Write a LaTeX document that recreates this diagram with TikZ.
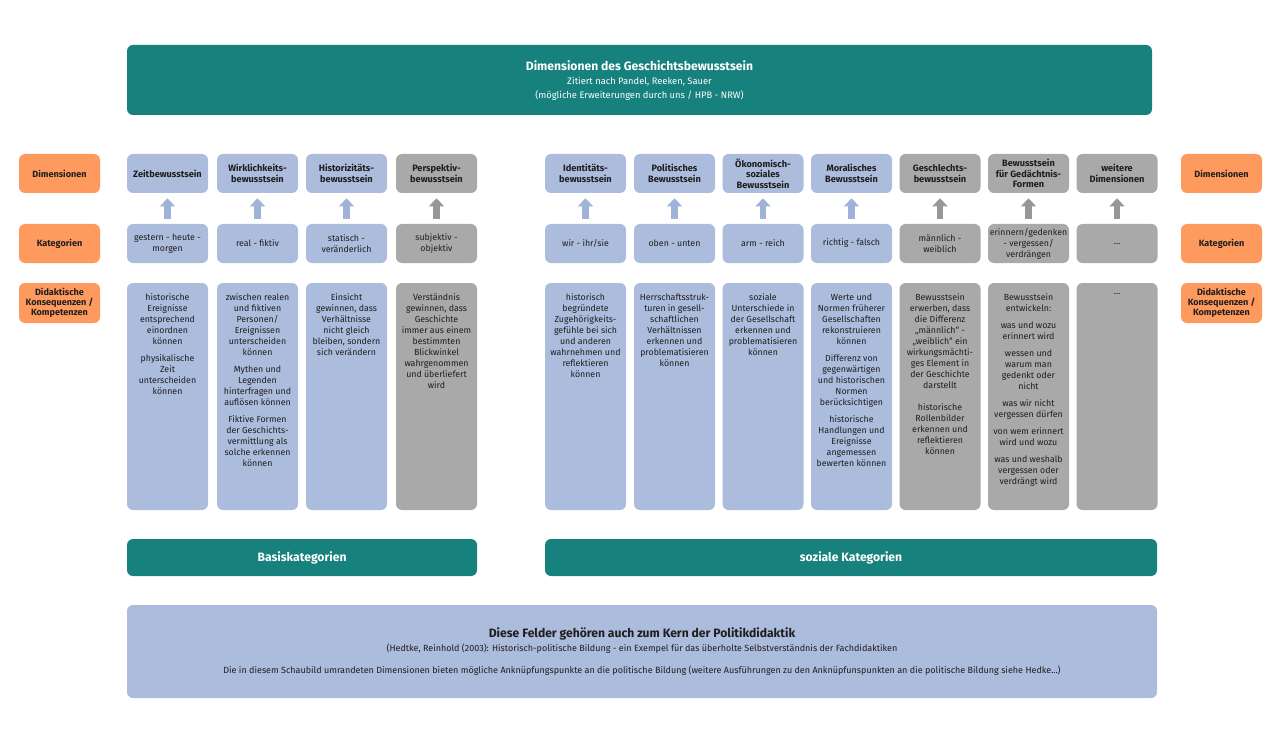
\documentclass[tikz,border=0pt]{standalone}
\usepackage{fontspec}
\setmainfont{Fira Sans}
\usetikzlibrary{arrows.meta}
\definecolor{tealc}{HTML}{17817D}
\definecolor{blu}{HTML}{ABBCDC}
\definecolor{gry}{HTML}{A9A9A9}
\definecolor{orng}{HTML}{FF9A5E}
\definecolor{bluarr}{HTML}{9FB2D8}
\definecolor{gryarr}{HTML}{979797}
\definecolor{txt}{HTML}{1E1E1E}
\begin{document}
\begin{tikzpicture}[x=0.75pt,y=-0.75pt,
  box/.style={rounded corners=4.5pt, inner sep=0pt, align=center, text=txt},
  dimbox/.style={box, minimum width=60.75pt, minimum height=29.25pt, font=\fontsize{6.9}{8}\selectfont\bfseries},
  catbox/.style={box, minimum width=60.75pt, minimum height=29.25pt, font=\fontsize{6.6}{8.25}\selectfont},
  didbox/.style={box, minimum width=60.75pt, minimum height=170.25pt},
  dtext/.style={inner sep=0pt, align=center, text=txt, font=\fontsize{6.6}{8.25}\selectfont, anchor=north},
  lbl/.style={box, fill=orng, minimum width=60.75pt, minimum height=29.25pt, font=\fontsize{6.8}{7.6}\selectfont\bfseries},
  tbox/.style={rounded corners=4.5pt, inner sep=0pt, fill=tealc, text=white, align=center},
  arrb/.style={line width=5pt, draw=bluarr, -{Triangle[width=11pt,length=6pt]}, shorten <=3.75pt, shorten >=3.75pt},
  arrg/.style={arrb, draw=gryarr}
]
\useasboundingbox (0,0) rectangle (1280,752);

% header
\node[tbox, minimum width=768.75pt, minimum height=52.5pt] (head) at (639.5,80) {};
\node[text=white, font=\fontsize{9.1}{10}\selectfont\bfseries, inner sep=0pt] (h1) at (639.5,66) {Dimensionen des Geschichtsbewusstsein};
\node[text=white, font=\fontsize{7}{8}\selectfont, inner sep=0pt] (h2) at (639.5,82) {Zitiert nach Pandel, Reeken, Sauer};
\node[text=white, font=\fontsize{7}{8}\selectfont, inner sep=0pt] (h3) at (639.5,96) {(mögliche Erweiterungen durch uns / HPB - NRW)};

% orange labels
\node[lbl] (lD) at (59.5,173.5) {Dimensionen};
\node[lbl] (lK) at (59.5,243.5) {Kategorien};
\node[lbl, minimum height=30pt] (lC) at (59.5,303) {Didaktische\\Konsequenzen /\\Kompetenzen};
\node[lbl] (rD) at (1221.5,173.5) {Dimensionen};
\node[lbl] (rK) at (1221.5,243.5) {Kategorien};
\node[lbl, minimum height=30pt] (rC) at (1221.5,303) {Didaktische\\Konsequenzen /\\Kompetenzen};

% dimension boxes
\node[dimbox, fill=blu] (d1) at (167.5,173.5) {Zeitbewusstsein};
\node[dimbox, fill=blu] (d2) at (257.5,173.5) {Wirklichkeits-\\bewusstsein};
\node[dimbox, fill=blu] (d3) at (346.5,173.5) {Historizitäts-\\bewusstsein};
\node[dimbox, fill=gry] (d4) at (436.5,173.5) {Perspektiv-\\bewusstsein};
\node[dimbox, fill=blu] (d5) at (585.5,173.5) {Identitäts-\\bewusstsein};
\node[dimbox, fill=blu] (d6) at (674.5,173.5) {Politisches\\Bewusstsein};
\node[dimbox, fill=blu] (d7) at (763,173.5) {Ökonomisch-\\soziales\\Bewusstsein};
\node[dimbox, fill=blu] (d8) at (851.5,173.5) {Moralisches\\Bewusstsein};
\node[dimbox, fill=gry] (d9) at (940,173.5) {Geschlechts-\\bewusstsein};
\node[dimbox, fill=gry] (d10) at (1028.5,173.5) {Bewusstsein\\für Gedächtnis-\\Formen};
\node[dimbox, fill=gry] (d11) at (1117,173.5) {weitere\\Dimensionen};

% category boxes
\node[catbox, fill=blu] (c1) at (167.5,243.5) {gestern - heute -\\morgen};
\node[catbox, fill=blu] (c2) at (257.5,243.5) {real - fiktiv};
\node[catbox, fill=blu] (c3) at (346.5,243.5) {statisch -\\veränderlich};
\node[catbox, fill=gry] (c4) at (436.5,243.5) {subjektiv -\\objektiv};
\node[catbox, fill=blu] (c5) at (585.5,243.5) {wir - ihr/sie};
\node[catbox, fill=blu] (c6) at (674.5,243.5) {oben - unten};
\node[catbox, fill=blu] (c7) at (763,243.5) {arm - reich};
\node[catbox, fill=blu] (c8) at (851.5,243.5) {richtig - falsch};
\node[catbox, fill=gry] (c9) at (940,243.5) {männlich -\\weiblich};
\node[catbox, fill=gry] (c10) at (1028.5,243.5) {erinnern/gedenken\\- vergessen/\\verdrängen};
\node[catbox, fill=gry] (c11) at (1117,243.5) {…};

% arrows
\foreach \i in {1,2,3,5,6,7,8} \draw[arrb] (c\i) -- (d\i);
\foreach \i in {4,9,10,11} \draw[arrg] (c\i) -- (d\i);

% didactic boxes
\node[didbox, fill=blu] (b1) at (167.5,396.5) {};
\node[didbox, fill=blu] (b2) at (257.5,396.5) {};
\node[didbox, fill=blu] (b3) at (346.5,396.5) {};
\node[didbox, fill=gry] (b4) at (436.5,396.5) {};
\node[didbox, fill=blu] (b5) at (585.5,396.5) {};
\node[didbox, fill=blu] (b6) at (674.5,396.5) {};
\node[didbox, fill=blu] (b7) at (763,396.5) {};
\node[didbox, fill=blu] (b8) at (851.5,396.5) {};
\node[didbox, fill=gry] (b9) at (940,396.5) {};
\node[didbox, fill=gry] (b10) at (1028.5,396.5) {};
\node[didbox, fill=gry] (b11) at (1117,396.5) {};

\node[dtext] (t1) at ([yshift=-8pt]b1.north) {historische\\Ereignisse\\entsprechend\\einordnen\\können\\[4.5pt]physikalische\\Zeit\\unterscheiden\\können};
\node[dtext] (t2) at ([yshift=-8pt]b2.north) {zwischen realen\\und fiktiven\\Personen/\\Ereignissen\\unterscheiden\\können\\[4.5pt]Mythen und\\Legenden\\hinterfragen und\\auflösen können\\[4.5pt]Fiktive Formen\\der Geschichts-\\vermittlung als\\solche erkennen\\können};
\node[dtext] (t3) at ([yshift=-8pt]b3.north) {Einsicht\\gewinnen, dass\\Verhältnisse\\nicht gleich\\bleiben, sondern\\sich verändern};
\node[dtext] (t4) at ([yshift=-8pt]b4.north) {Verständnis\\gewinnen, dass\\Geschichte\\immer aus einem\\bestimmten\\Blickwinkel\\wahrgenommen\\und überliefert\\wird};
\node[dtext] (t5) at ([yshift=-8pt]b5.north) {historisch\\begründete\\Zugehörigkeits-\\gefühle bei sich\\und anderen\\wahrnehmen und\\reflektieren\\können};
\node[dtext] (t6) at ([yshift=-8pt]b6.north) {Herrschaftsstruk-\\turen in gesell-\\schaftlichen\\Verhältnissen\\erkennen und\\problematisieren\\können};
\node[dtext] (t7) at ([yshift=-8pt]b7.north) {soziale\\Unterschiede in\\der Gesellschaft\\erkennen und\\problematisieren\\können};
\node[dtext] (t8) at ([yshift=-8pt]b8.north) {Werte und\\Normen früherer\\Gesellschaften\\rekonstruieren\\können\\[4.5pt]Differenz von\\gegenwärtigen\\und historischen\\Normen\\berücksichtigen\\[4.5pt]historische\\Handlungen und\\Ereignisse\\angemessen\\bewerten können};
\node[dtext] (t9) at ([yshift=-8pt]b9.north) {Bewusstsein\\erwerben, dass\\die Differenz\\„männlich“ -\\„weiblich“ ein\\wirkungsmächti-\\ges Element in\\der Geschichte\\darstellt\\[8.25pt]historische\\Rollenbilder\\erkennen und\\reflektieren\\können};
\node[dtext] (t10) at ([yshift=-8pt]b10.north) {Bewusstsein\\entwickeln:\\[4.5pt]was und wozu\\erinnert wird\\[4.5pt]wessen und\\warum man\\gedenkt oder\\nicht\\[4.5pt]was wir nicht\\vergessen dürfen\\[4.5pt]von wem erinnert\\wird und wozu\\[4.5pt]was und weshalb\\vergessen oder\\verdrängt wird};
\node[dtext] (t11) at ([yshift=-8pt]b11.north) {…};

% category bands
\node[tbox, minimum width=262.5pt, minimum height=27.75pt, font=\fontsize{9.1}{10}\selectfont\bfseries] (basis) at (302,557.5) {Basiskategorien};
\node[tbox, minimum width=459pt, minimum height=27.75pt, font=\fontsize{9.1}{10}\selectfont\bfseries] (sozial) at (851,557.5) {soziale Kategorien};

% bottom box
\node[box, fill=blu, minimum width=772.5pt, minimum height=69.75pt] (bot) at (642,651.5) {};
\node[text=txt, inner sep=0pt, font=\fontsize{9.1}{10}\selectfont\bfseries] (bt1) at (642,634) {Diese Felder gehören auch zum Kern der Politikdidaktik};
\node[text=txt, inner sep=0pt, font=\fontsize{6.75}{7.5}\selectfont] (bt2) at (642,649) {(Hedtke, Reinhold (2003): Historisch-politische Bildung - ein Exempel für das überholte Selbstverständnis der Fachdidaktiken};
\node[text=txt, inner sep=0pt, font=\fontsize{6.75}{7.5}\selectfont] (bt3) at (642,671) {Die in diesem Schaubild umrandeten Dimensionen bieten mögliche Anknüpfungspunkte an die politische Bildung (weitere Ausführungen zu den Anknüpfunspunkten an die politische Bildung siehe Hedke...)};
\end{tikzpicture}
\end{document}
